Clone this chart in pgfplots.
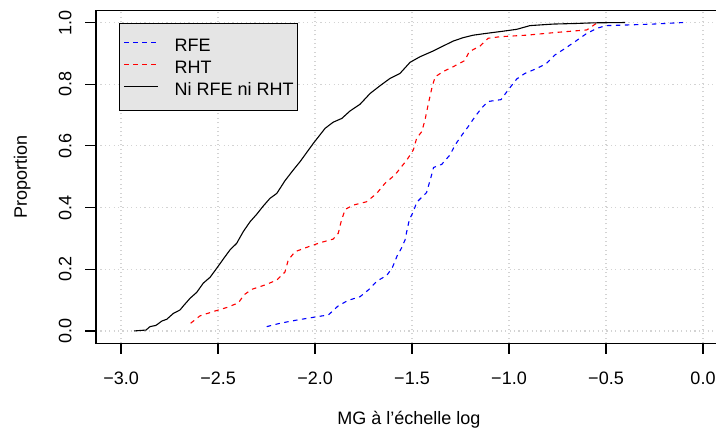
\documentclass[border=0pt]{standalone}
\usepackage{pgfplots}
\pgfplotsset{compat=1.18}
\usepackage{fontspec}
\setmainfont{Liberation Sans}
\definecolor{rblue}{RGB}{0,0,255}
\definecolor{rred}{RGB}{255,0,0}
\definecolor{gridgray}{RGB}{211,211,211}
\definecolor{leggray}{RGB}{229,229,229}
\newcommand{\rfont}{\fontsize{18bp}{21.6bp}\selectfont}

\pgfplotstableread{
x y
-2.249 0.014
-2.180 0.025
-2.088 0.036
-1.991 0.046
-1.931 0.052
-1.881 0.081
-1.830 0.099
-1.768 0.111
-1.725 0.133
-1.680 0.162
-1.630 0.180
-1.601 0.206
-1.577 0.243
-1.554 0.269
-1.536 0.295
-1.526 0.326
-1.514 0.360
-1.493 0.387
-1.476 0.417
-1.425 0.449
-1.402 0.499
-1.389 0.530
-1.347 0.540
-1.304 0.571
-1.278 0.603
-1.244 0.634
-1.210 0.663
-1.175 0.695
-1.141 0.723
-1.107 0.744
-1.041 0.750
-1.005 0.781
-0.960 0.817
-0.918 0.835
-0.861 0.850
-0.809 0.866
-0.763 0.895
-0.711 0.916
-0.660 0.938
-0.603 0.963
-0.548 0.981
-0.500 0.990
-0.393 0.992
-0.256 0.995
-0.102 1.000
}\rfe

\pgfplotstableread{
x y
-2.641 0.025
-2.593 0.049
-2.524 0.063
-2.455 0.076
-2.395 0.091
-2.366 0.117
-2.326 0.135
-2.258 0.149
-2.197 0.165
-2.155 0.191
-2.138 0.230
-2.103 0.257
-2.043 0.271
-1.974 0.286
-1.906 0.298
-1.880 0.317
-1.866 0.353
-1.845 0.394
-1.803 0.408
-1.734 0.419
-1.682 0.446
-1.639 0.479
-1.588 0.506
-1.527 0.554
-1.493 0.587
-1.476 0.625
-1.450 0.646
-1.433 0.684
-1.416 0.736
-1.398 0.787
-1.381 0.824
-1.339 0.841
-1.287 0.857
-1.227 0.877
-1.206 0.905
-1.149 0.924
-1.107 0.949
-1.046 0.954
-0.909 0.959
-0.754 0.968
-0.599 0.976
-0.548 0.998
}\rht

\pgfplotstableread{
x y
-2.933 0.000
-2.871 0.003
-2.851 0.014
-2.820 0.018
-2.790 0.032
-2.764 0.038
-2.730 0.057
-2.696 0.068
-2.679 0.081
-2.644 0.106
-2.610 0.125
-2.576 0.155
-2.541 0.174
-2.507 0.203
-2.473 0.233
-2.438 0.263
-2.404 0.284
-2.370 0.322
-2.335 0.354
-2.301 0.378
-2.267 0.405
-2.232 0.430
-2.197 0.446
-2.155 0.487
-2.112 0.522
-2.077 0.549
-2.009 0.608
-1.948 0.657
-1.906 0.677
-1.862 0.689
-1.820 0.713
-1.768 0.735
-1.716 0.770
-1.665 0.795
-1.613 0.819
-1.562 0.835
-1.510 0.871
-1.459 0.889
-1.390 0.908
-1.339 0.924
-1.287 0.940
-1.236 0.951
-1.184 0.959
-1.115 0.965
-1.029 0.972
-0.960 0.978
-0.892 0.990
-0.772 0.995
-0.651 0.997
-0.565 0.999
-0.402 1.000
}\ni

\begin{document}
\begin{tikzpicture}[x=1bp,y=1bp]
\begin{axis}[
  at={(96bp,89.7bp)}, anchor=south west,
  scale only axis, width=626bp, height=333.1bp,
  xmin=-3.129, xmax=0.098, ymin=-0.04, ymax=1.04,
  axis line style={line width=1.1bp, black},
  xtick={-3,-2.5,-2,-1.5,-1,-0.5,0},
  xticklabels={−3.0,−2.5,−2.0,−1.5,−1.0,−0.5,0.0},
  ytick={0,0.2,0.4,0.6,0.8,1},
  yticklabels={0.0,0.2,0.4,0.6,0.8,1.0},
  tick pos=left, tick align=outside, major tick length=10.7bp,
  tick style={line width=1.1bp, black},
  grid=major,
  major grid style={gridgray, line width=1.1bp, dash pattern=on 1.1bp off 3.3bp},
  tick label style={font=\rfont},
  xticklabel style={anchor=base, yshift=-30.5bp},
  yticklabel style={xshift=-13.8bp, rotate=90, anchor=base},
  xlabel={MG à l'échelle log},
  ylabel={Proportion},
  label style={font=\rfont},
  xlabel style={at={(axis description cs:0.5,0)}, anchor=base, yshift=-81.3bp},
  ylabel style={at={([xshift=-69bp]axis description cs:0,0.5)}, anchor=base, rotate=0},
  legend style={at={(0.0372,0.9625)}, anchor=north west, fill=leggray, draw=black,
    line width=1.1bp, font=\rfont, inner xsep=3.7bp, inner ysep=11.2bp,
    row sep=1bp, column sep=0bp,
    nodes={inner xsep=0bp, inner ysep=0bp, text height=17bp, text depth=4bp}},
  legend cell align=left,
  legend image code/.code={\draw[#1] (0bp,2.5bp) -- (34bp,2.5bp);},
]
\addplot[rblue, line width=1.1bp, dash pattern=on 4.5bp off 4.5bp] table {\rfe};
\addlegendentry{\hspace{16bp}RFE}
\addplot[rred, line width=1.1bp, dash pattern=on 4.5bp off 4.5bp] table {\rht};
\addlegendentry{\hspace{16bp}RHT}
\addplot[black, line width=1.1bp] table {\ni};
\addlegendentry{\hspace{16bp}Ni RFE ni RHT}
\end{axis}
\pgfresetboundingbox
\useasboundingbox (0,0) rectangle (716,433);
\end{tikzpicture}
\end{document}
